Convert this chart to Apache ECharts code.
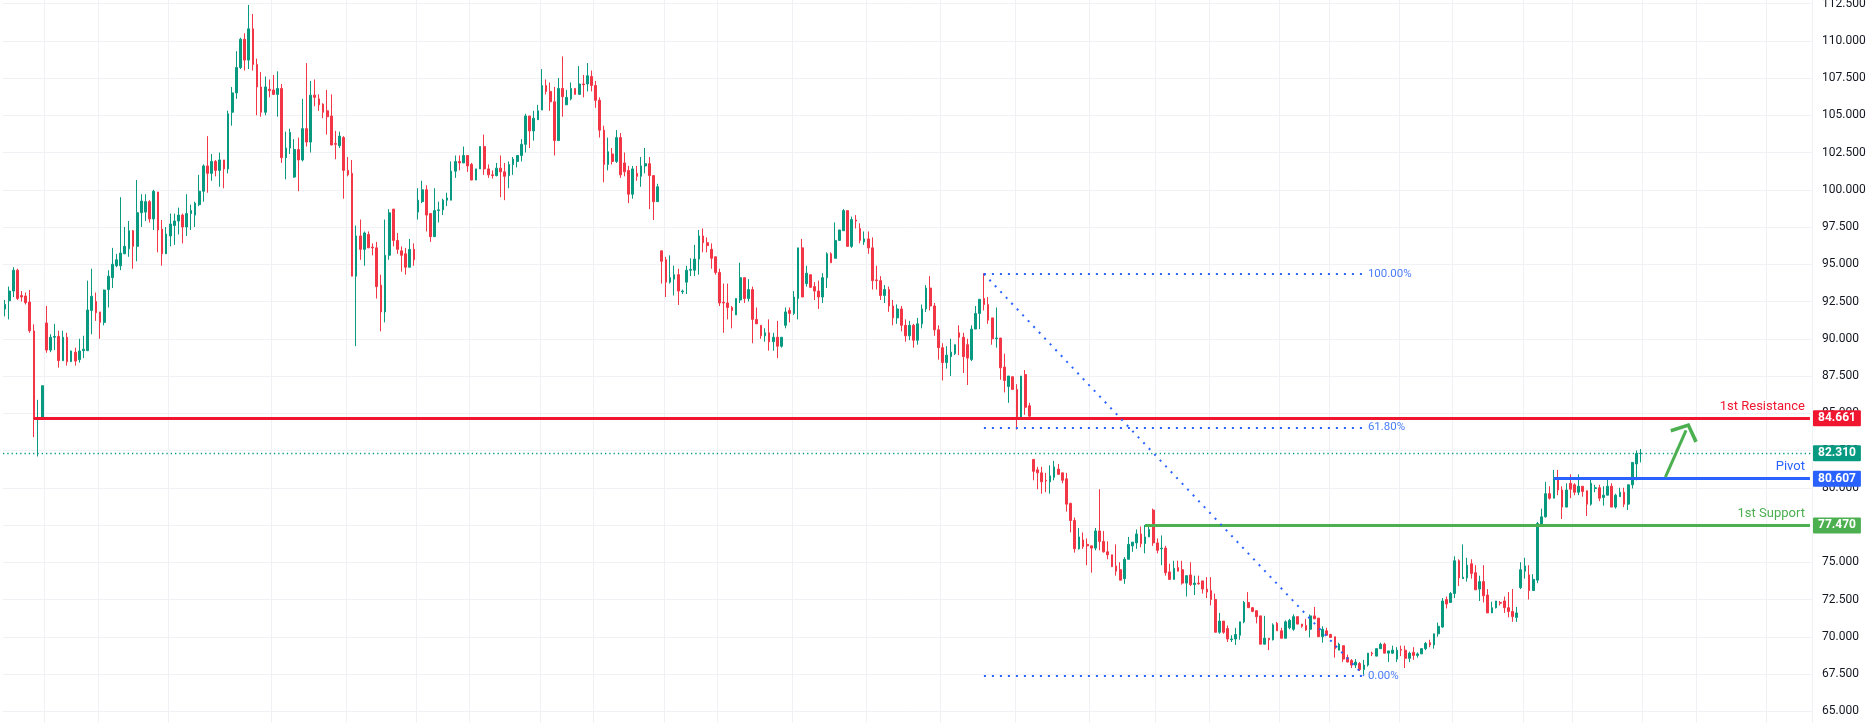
<!DOCTYPE html>
<html>
<head>
<meta charset="utf-8">
<title>WTI</title>
<script src="https://cdn.jsdelivr.net/npm/echarts@6/dist/echarts.min.js"></script>
<style>
  html, body { margin: 0; padding: 0; background: #ffffff; }
  #main { width: 1873px; height: 723px; }
</style>
</head>
<body>
<div id="main"></div>
<script>
// candles, oldest first
let opens = [
  92.0, 92.55, 93.2, 94.6, 92.9, 92.87, 92.46, 90.52, 84.6, 84.7,
  91.06, 89.24, 90.1, 90.16, 88.53, 90.1, 88.46, 89.1, 88.6, 89.2,
  89.2, 91.9, 92.5, 91.8, 91.1, 93.3, 94.1, 94.9, 94.9, 95.7,
  96.04, 97.25, 96.2, 98.46, 98.5, 99.2, 98.04, 99.85, 97.36, 95.7,
  96.9, 97.6, 97.9, 98.3, 97.5, 98.4, 98.3, 99.0, 99.9, 101.6,
  101.1, 101.9, 101.3, 102.0, 101.4, 105.2, 106.5, 108.2, 110.1, 108.7,
  110.8, 108.4, 106.9, 105.2, 106.75, 106.7, 106.4, 106.8, 102.15, 102.8,
  100.85, 102.7, 102.0, 104.1, 103.2, 106.35, 106.1, 105.75, 105.3, 104.95,
  103.1, 102.95, 103.5, 101.3, 101.1, 94.2, 96.9, 96.0, 97.0, 96.15,
  96.1, 93.6, 91.8, 95.6, 98.7, 96.6, 95.9, 95.7, 94.8, 96.0,
  98.5, 99.2, 100.0, 98.4, 96.85, 98.6, 98.65, 99.3, 99.3, 101.25,
  101.9, 101.8, 102.3, 101.7, 100.65, 101.4, 102.9, 101.4, 101.0, 100.95,
  101.45, 101.2, 100.95, 101.7, 101.9, 102.3, 103.05, 104.95, 103.95, 104.7,
  105.35, 107.0, 106.6, 105.9, 103.3, 106.8, 105.7, 106.1, 106.8, 106.4,
  107.1, 107.1, 107.6, 107.0, 106.0, 104.0, 101.7, 102.4, 101.9, 103.5,
  101.8, 101.3, 99.7, 101.1, 100.9, 101.6, 101.75, 100.95, 99.2, 95.9,
  95.3, 93.8, 94.0, 94.3, 93.15, 93.8, 94.6, 94.6, 95.35, 96.9,
  96.45, 96.0, 95.5, 94.45, 92.45, 92.4, 92.1, 91.6, 92.6, 94.1,
  92.7, 93.3, 91.3, 90.9, 90.2, 90.4, 89.8, 90.1, 89.5, 90.9,
  91.9, 91.7, 92.7, 96.1, 93.7, 94.3, 93.5, 93.2, 92.8, 94.1,
  95.7, 95.4, 96.6, 97.25, 98.6, 96.2, 97.97, 97.4, 96.5, 96.7,
  96.1, 93.95, 93.9, 92.9, 93.3, 92.2, 91.4, 92.0, 90.9, 90.2,
  90.9, 89.9, 91.0, 92.0, 93.4, 92.2, 90.6, 89.4, 88.4, 88.8,
  89.0, 90.4, 90.1, 89.6, 88.6, 90.65, 91.7, 92.7, 92.3, 91.4,
  90.0, 90.05, 88.1, 86.8, 87.45, 86.6, 84.7, 87.6, 85.5, 81.9,
  81.2, 81.0, 80.5, 80.4, 80.7, 81.25, 81.0, 80.6, 78.95, 77.8,
  75.9, 76.5, 76.2, 76.1, 75.95, 77.1, 76.4, 75.7, 75.5, 74.75,
  74.5, 73.9, 75.2, 76.1, 76.3, 76.9, 76.25, 76.7, 78.5, 76.3,
  75.9, 75.95, 74.35, 73.85, 74.65, 74.5, 73.6, 74.15, 73.5, 73.6,
  73.75, 73.2, 73.1, 72.5, 70.3, 71.05, 70.55, 69.8, 69.85, 70.1,
  71.0, 72.3, 71.95, 71.75, 71.4, 69.5, 69.9, 69.8, 70.9, 70.4,
  69.9, 70.6, 70.5, 71.35, 70.85, 70.75, 70.5, 71.4, 71.25, 70.0,
  70.4, 70.15, 70.0, 69.1, 69.4, 68.6, 68.4, 68.1, 68.2, 67.8,
  68.1, 68.9, 68.7, 69.2, 69.5, 68.9, 68.9, 68.5, 69.15, 69.1,
  68.55, 68.95, 68.75, 68.85, 69.2, 69.6, 69.45, 70.2, 70.65, 72.5,
  72.3, 72.9, 75.1, 73.9, 73.95, 74.9, 74.3, 73.2, 73.7, 72.8,
  71.6, 71.95, 72.3, 72.4, 71.95, 71.7, 71.3, 73.3, 74.4, 74.15,
  73.1, 73.8, 77.5, 78.05, 79.6, 79.3, 80.6, 79.85, 78.7, 80.3,
  80.2, 79.7, 80.1, 79.8, 78.9, 79.95, 80.0, 79.35, 79.5, 80.1,
  78.7, 79.4, 79.7, 78.9, 80.2, 81.6, 82.3
];
let highs = [
  92.6, 93.5, 94.8, 94.7, 93.2, 93.1, 93.27, 90.97, 85.9, 86.85,
  92.2, 90.3, 91.0, 90.54, 90.54, 90.4, 89.2, 89.4, 90.0, 90.2,
  93.9, 94.7, 93.1, 91.8, 93.3, 94.6, 96.1, 95.7, 99.5, 97.5,
  97.9, 97.3, 100.65, 99.7, 99.7, 99.3, 100.0, 99.85, 97.97, 97.5,
  98.4, 98.4, 98.8, 98.4, 99.7, 99.0, 99.2, 101.0, 101.7, 103.6,
  102.4, 102.0, 102.5, 102.0, 105.3, 106.9, 109.3, 110.2, 110.5, 112.4,
  111.8, 108.8, 107.9, 107.6, 107.4, 107.7, 107.95, 107.1, 103.9, 104.1,
  103.4, 103.5, 106.1, 108.5, 107.3, 107.4, 106.4, 105.8, 106.7, 106.4,
  103.95, 103.9, 103.6, 102.2, 102.0, 97.6, 98.0, 97.2, 97.2, 96.4,
  96.5, 94.3, 98.0, 98.7, 98.7, 97.1, 96.2, 96.1, 96.7, 96.4,
  100.1, 100.6, 100.3, 98.4, 100.1, 99.2, 99.4, 99.8, 101.9, 102.3,
  102.3, 102.9, 102.3, 101.8, 101.4, 102.9, 103.7, 101.7, 101.3, 101.8,
  102.3, 101.8, 101.9, 102.2, 102.3, 103.4, 105.1, 104.95, 105.3, 105.7,
  108.1, 107.4, 107.2, 106.9, 107.5, 108.95, 106.7, 107.2, 106.8, 108.3,
  107.7, 108.5, 108.0, 107.3, 106.2, 104.3, 103.5, 102.8, 104.0, 103.8,
  102.5, 101.6, 101.6, 101.6, 102.2, 102.8, 102.2, 100.95, 100.4, 95.9,
  95.5, 95.6, 94.9, 94.7, 93.3, 94.9, 95.4, 96.3, 97.3, 97.4,
  96.8, 96.4, 95.5, 94.7, 93.7, 93.7, 92.2, 92.7, 95.1, 94.1,
  94.0, 93.5, 92.1, 90.9, 90.7, 91.3, 90.4, 91.2, 90.1, 92.1,
  92.1, 93.2, 96.1, 96.7, 94.9, 94.3, 93.8, 93.9, 94.4, 95.8,
  95.8, 97.8, 97.3, 98.7, 98.6, 98.2, 98.3, 97.75, 97.2, 97.2,
  96.8, 94.9, 94.2, 93.6, 93.5, 92.6, 92.3, 92.2, 91.3, 91.2,
  91.0, 91.4, 92.3, 93.6, 94.2, 92.4, 90.9, 89.7, 89.5, 90.0,
  89.6, 90.9, 90.4, 90.0, 90.9, 92.2, 92.65, 94.4, 92.8, 91.4,
  92.1, 90.05, 89.0, 87.5, 87.45, 86.95, 87.5, 87.9, 85.7, 81.9,
  81.4, 81.4, 81.0, 81.5, 81.8, 81.6, 81.0, 81.0, 79.0, 78.0,
  77.3, 77.0, 76.6, 76.1, 77.3, 79.9, 77.1, 76.4, 75.5, 76.2,
  75.0, 75.35, 76.7, 76.35, 77.2, 77.4, 77.5, 77.4, 78.6, 76.6,
  76.8, 76.1, 74.9, 75.1, 75.1, 75.1, 74.1, 75.0, 74.1, 74.1,
  73.75, 74.0, 74.0, 72.9, 71.6, 71.05, 70.75, 70.1, 70.6, 71.0,
  72.4, 73.0, 72.0, 71.75, 71.4, 71.4, 69.9, 70.9, 71.0, 70.6,
  71.1, 71.2, 71.5, 71.35, 70.85, 71.2, 71.5, 72.0, 71.25, 70.7,
  70.6, 70.2, 70.0, 69.6, 69.4, 68.8, 68.5, 68.5, 68.3, 68.45,
  68.9, 69.0, 69.2, 69.6, 69.6, 69.05, 69.4, 69.3, 69.4, 69.4,
  69.0, 69.3, 68.95, 69.2, 69.65, 69.8, 70.2, 70.95, 72.6, 72.7,
  73.0, 75.4, 75.2, 76.2, 75.3, 75.2, 74.8, 74.1, 74.8, 73.2,
  72.35, 72.4, 72.4, 72.7, 73.0, 73.2, 72.0, 75.0, 75.3, 74.8,
  74.2, 77.7, 78.6, 80.4, 80.1, 81.2, 81.2, 80.1, 80.3, 80.9,
  80.3, 80.9, 80.1, 79.8, 80.7, 80.2, 80.2, 80.1, 80.7, 80.3,
  79.6, 80.0, 80.0, 80.2, 81.7, 82.5, 82.6
];
let lows = [
  91.5, 91.3, 92.8, 92.6, 92.5, 92.3, 90.4, 83.4, 82.1, 84.6,
  89.06, 89.1, 89.24, 88.06, 88.5, 88.2, 88.46, 88.2, 88.4, 88.7,
  89.2, 90.3, 91.2, 90.0, 90.9, 92.1, 93.4, 94.8, 94.6, 95.7,
  95.5, 94.7, 95.2, 97.5, 97.9, 97.8, 97.3, 95.8, 94.9, 95.7,
  96.2, 96.3, 97.0, 96.4, 96.9, 97.3, 97.5, 98.9, 99.2, 99.8,
  100.6, 100.9, 100.2, 100.1, 101.1, 104.3, 106.1, 108.1, 108.0, 108.1,
  108.0, 105.0, 104.9, 105.0, 106.2, 106.4, 104.9, 101.8, 100.7, 102.4,
  100.8, 99.9, 101.9, 102.9, 102.5, 105.6, 105.3, 104.8, 103.7, 103.0,
  102.05, 102.8, 99.4, 100.9, 94.2, 89.5, 95.3, 94.9, 96.1, 95.6,
  92.7, 90.5, 91.1, 95.3, 96.2, 95.7, 94.5, 94.3, 94.8, 94.9,
  98.0, 99.1, 97.2, 96.5, 96.85, 97.8, 98.3, 98.9, 99.3, 100.8,
  101.3, 101.8, 101.2, 100.65, 100.65, 101.4, 101.0, 100.8, 100.75, 100.9,
  99.5, 99.3, 100.1, 101.0, 101.5, 101.9, 102.5, 102.8, 103.3, 104.7,
  105.35, 106.4, 105.3, 102.3, 103.3, 104.9, 105.7, 106.0, 106.4, 106.4,
  106.2, 106.6, 106.6, 105.5, 103.5, 100.5, 101.3, 101.7, 101.8, 100.8,
  100.9, 99.1, 99.4, 100.6, 100.2, 101.1, 98.7, 97.97, 99.2, 93.7,
  92.8, 93.7, 92.9, 92.27, 93.0, 93.0, 94.2, 94.2, 94.3, 95.8,
  95.8, 94.7, 94.3, 92.2, 90.4, 91.3, 90.7, 91.6, 92.4, 92.4,
  92.5, 89.7, 91.0, 90.0, 89.8, 89.2, 89.2, 88.7, 89.4, 90.7,
  91.1, 91.6, 91.3, 92.8, 93.5, 93.4, 92.6, 92.0, 92.4, 93.4,
  95.1, 95.4, 96.6, 97.25, 96.2, 96.1, 97.4, 96.4, 96.3, 95.7,
  93.3, 93.3, 92.6, 92.4, 91.8, 90.9, 91.0, 90.5, 89.8, 89.9,
  89.4, 89.6, 90.7, 91.8, 91.9, 90.2, 88.6, 87.2, 88.0, 87.5,
  88.9, 88.9, 87.7, 86.9, 88.5, 90.65, 90.65, 91.9, 91.0, 89.6,
  89.4, 87.25, 86.4, 85.7, 86.6, 83.9, 84.7, 84.9, 84.7, 80.5,
  79.9, 79.6, 79.7, 79.6, 80.5, 80.9, 80.3, 78.4, 77.0, 75.65,
  75.85, 75.9, 74.8, 74.3, 75.8, 75.8, 75.65, 75.2, 74.7, 74.1,
  73.8, 73.55, 75.2, 75.7, 75.9, 76.0, 75.6, 76.7, 76.1, 75.6,
  74.8, 74.1, 73.85, 73.85, 74.4, 73.5, 72.7, 73.4, 72.8, 73.5,
  72.9, 72.6, 72.1, 70.3, 70.2, 70.2, 69.65, 69.65, 69.45, 69.8,
  70.9, 71.95, 71.65, 70.9, 69.5, 69.5, 69.1, 69.75, 70.4, 69.9,
  69.9, 70.5, 70.4, 70.85, 70.6, 70.4, 69.95, 71.2, 70.0, 69.6,
  70.1, 69.95, 68.6, 69.1, 68.3, 68.3, 67.9, 67.9, 67.7, 67.45,
  68.0, 68.7, 68.7, 69.2, 68.9, 68.3, 68.85, 68.3, 68.7, 67.9,
  68.3, 68.45, 68.6, 68.85, 69.1, 69.3, 69.2, 70.0, 70.6, 71.9,
  72.3, 72.6, 73.4, 73.9, 73.7, 73.9, 73.15, 72.4, 72.3, 71.6,
  71.6, 71.9, 72.1, 71.6, 71.3, 71.0, 71.0, 73.2, 73.9, 72.5,
  73.1, 73.6, 77.5, 78.0, 79.2, 79.3, 79.5, 77.9, 78.7, 79.3,
  79.5, 79.5, 79.4, 78.1, 78.8, 79.7, 79.1, 78.8, 79.5, 78.7,
  78.6, 79.4, 78.7, 78.5, 79.95, 80.5, 81.7
];
let closes = [
  92.3, 93.2, 94.6, 92.7, 92.8, 92.42, 90.54, 84.6, 84.7, 86.85,
  89.24, 90.1, 90.15, 88.53, 90.1, 88.46, 89.18, 88.5, 89.18, 89.3,
  91.93, 92.85, 91.75, 91.1, 93.27, 94.2, 95.0, 95.3, 95.75, 96.2,
  97.25, 96.2, 98.46, 99.24, 99.2, 98.04, 99.9, 97.3, 95.7, 97.03,
  97.7, 97.9, 98.3, 97.5, 98.4, 98.6, 99.1, 99.9, 101.6, 101.1,
  101.9, 101.3, 102.0, 101.4, 105.1, 106.5, 108.2, 110.1, 108.7, 110.8,
  108.4, 106.9, 105.2, 106.9, 106.65, 106.4, 106.8, 102.15, 102.8, 103.85,
  102.7, 102.0, 104.1, 103.2, 106.35, 106.2, 105.7, 105.2, 104.9, 103.0,
  103.05, 103.6, 101.3, 101.0, 94.2, 96.9, 96.0, 97.1, 96.1, 96.1,
  93.5, 91.8, 95.6, 98.45, 96.6, 96.0, 95.6, 94.8, 96.0, 95.3,
  99.3, 100.0, 98.3, 96.85, 98.6, 98.65, 99.3, 99.45, 101.25, 101.9,
  101.8, 102.3, 101.6, 100.65, 101.4, 102.9, 101.4, 101.0, 100.95, 101.45,
  101.2, 100.9, 101.7, 102.05, 102.3, 103.05, 104.95, 103.95, 104.8, 105.3,
  107.0, 106.6, 105.9, 103.3, 106.8, 106.25, 106.2, 106.8, 106.4, 107.1,
  107.05, 107.65, 107.0, 106.0, 104.0, 101.7, 102.55, 101.9, 103.5, 101.0,
  101.2, 99.7, 101.4, 100.9, 101.6, 101.75, 100.95, 99.2, 100.2, 95.2,
  93.8, 94.1, 94.3, 93.2, 93.2, 94.6, 94.65, 95.35, 96.9, 96.45,
  96.25, 95.4, 94.45, 92.4, 92.4, 92.1, 91.9, 92.7, 94.1, 92.7,
  93.3, 91.3, 91.0, 90.2, 90.4, 89.8, 90.1, 89.5, 90.1, 91.8,
  91.7, 92.8, 96.1, 92.8, 94.4, 93.45, 93.2, 92.8, 94.1, 95.7,
  95.1, 96.6, 97.3, 98.6, 96.2, 98.0, 97.9, 96.6, 96.7, 96.1,
  93.9, 93.9, 92.9, 93.3, 92.2, 91.4, 92.0, 90.9, 90.2, 90.9,
  89.9, 91.0, 92.0, 93.4, 92.2, 90.6, 89.4, 88.4, 88.9, 89.1,
  89.6, 90.1, 88.8, 88.7, 90.65, 91.7, 92.65, 92.3, 91.25, 90.0,
  90.05, 88.05, 87.2, 87.5, 86.6, 84.7, 87.5, 85.4, 84.8, 81.1,
  81.0, 80.4, 80.45, 80.8, 81.4, 80.9, 80.5, 78.9, 77.8, 75.9,
  76.7, 76.05, 76.1, 75.95, 77.1, 76.4, 75.7, 75.5, 74.7, 74.4,
  73.8, 75.2, 76.2, 76.35, 76.9, 76.25, 76.7, 77.2, 76.3, 75.8,
  75.95, 74.3, 73.85, 74.6, 74.4, 73.6, 74.1, 73.5, 73.6, 73.55,
  73.2, 73.0, 72.5, 70.3, 71.05, 70.3, 69.85, 69.85, 70.15, 71.0,
  72.3, 71.95, 71.7, 71.35, 69.5, 69.9, 69.8, 70.8, 70.4, 69.9,
  71.0, 71.1, 71.35, 70.85, 70.7, 70.45, 71.4, 71.2, 70.0, 70.5,
  70.1, 69.95, 69.2, 69.5, 68.5, 68.3, 68.1, 68.3, 67.8, 68.1,
  68.9, 68.85, 69.2, 69.5, 68.9, 69.05, 69.1, 69.1, 69.1, 68.55,
  68.9, 68.75, 68.85, 69.2, 69.55, 69.45, 70.2, 70.7, 72.4, 72.2,
  72.9, 75.1, 73.95, 74.0, 74.8, 74.25, 73.15, 73.7, 72.75, 71.6,
  71.95, 72.4, 72.25, 71.95, 71.7, 71.35, 71.6, 74.5, 74.75, 73.1,
  73.85, 77.6, 78.05, 79.6, 79.3, 80.6, 79.85, 78.7, 79.85, 79.9,
  79.7, 80.1, 79.75, 78.9, 80.3, 80.0, 79.3, 79.5, 80.1, 78.7,
  79.5, 79.7, 78.9, 80.2, 81.7, 82.3, 82.31
];

// bar slots incl. the empty room right of the last candle
let slotCount = 438;
// vertical time grid, slot index
let timeGrid = [10, 23, 40, 65, 83, 100, 113, 130, 143, 160, 173, 191, 209, 227, 245, 263, 279, 292, 309, 321, 338, 351, 368, 380, 397, 410, 427];
// price scale
let priceMin = 62.5;
let priceMax = 115;
let priceStep = 2.5;

// drawn levels
let levelNames = ['1st Resistance', 'Pivot', '1st Support'];
let levelValues = [84.661, 80.607, 77.470];
let levelFrom = [7, 375, 276];
let lastPrice = 82.310;

// fibonacci retracement, [slot, price]
let fibHigh = [237, 94.35];
let fibLow = [329, 67.39];
let fibRatios = [1, 0.618, 0];
let fibNames = ['100.00%', '61.80%', '0.00%'];

// projection arrow, [slot, price]
let arrowFrom = [402, 80.72];
let arrowTo = [407, 83.85];

class PriceChart {
  constructor() {
    this.up = '#089981';
    this.down = '#f23645';
    this.levelColors = ['#f0162f', '#2962ff', '#4caf50'];
    this.fibColor = '#2962ff';
    this.font = 'Roboto, "Noto Sans", sans-serif';
  }

  init() {
    this.createCandle('main');
  }

  // price tag on the right scale
  tag(v, color) {
    return {
      show: true,
      position: 'end',
      distance: 1,
      formatter: v.toFixed(3),
      color: '#ffffff',
      backgroundColor: color,
      padding: [2, 5, 1, 5],
      fontSize: 12,
      fontWeight: 'bold',
      fontFamily: this.font,
      lineHeight: 13,
      borderRadius: 1
    };
  }

  buildLines() {
    let lines = [];
    let last = slotCount - 1;

    // last price, dotted across the whole pane
    lines.push({
      yAxis: lastPrice,
      lineStyle: { color: this.up, width: 1.3, type: [1.3, 3] },
      label: this.tag(lastPrice, this.up)
    });

    levelNames.forEach((name, k) => {
      let c = this.levelColors[k];
      lines.push([
        {
          coord: [levelFrom[k], levelValues[k]],
          lineStyle: { color: c, width: 3, type: 'solid' },
          label: {
            show: true, position: 'insideEndTop', distance: 5,
            formatter: name, color: c, fontSize: 13, fontFamily: this.font
          }
        },
        { coord: [last, levelValues[k]] }
      ]);
      // invisible full-width twin that carries the scale tag
      lines.push({
        yAxis: levelValues[k],
        lineStyle: { color: 'rgba(0,0,0,0)', width: 1 },
        label: this.tag(levelValues[k], c)
      });
    });

    // fib levels
    fibRatios.forEach((r, k) => {
      let p = fibLow[1] + r * (fibHigh[1] - fibLow[1]);
      lines.push([
        {
          coord: [fibHigh[0], p],
          lineStyle: { color: this.fibColor, width: 2, type: [2, 6] },
          label: {
            show: true, position: 'end', distance: 4,
            formatter: fibNames[k], color: '#4a7df7', fontSize: 11.5, fontFamily: this.font
          }
        },
        { coord: [fibLow[0], p] }
      ]);
    });
    lines.push([
      { coord: fibHigh, lineStyle: { color: this.fibColor, width: 2, type: [2, 6] }, label: { show: false } },
      { coord: fibLow }
    ]);

    // arrow
    lines.push([
      { coord: arrowFrom, symbol: 'none', lineStyle: { color: '#4caf50', width: 3, type: 'solid' }, label: { show: false } },
      {
        coord: arrowTo,
        symbol: 'path://M16,0 L32,13 L29.5,16 L16,4.5 L2.5,16 L0,13 Z',
        symbolSize: [30, 16]
      }
    ]);
    return lines;
  }

  createCandle(el) {
    let chart = echarts.init(document.getElementById(el));
    let slots = [];
    for (let i = 0; i < slotCount; i++) slots.push(String(i));
    let data = opens.map((o, i) => [o, closes[i], lows[i], highs[i]]);

    let option = {
      animation: false,
      backgroundColor: '#ffffff',
      grid: {
        left: 3,
        right: 61,
        top: -33.75,
        bottom: -25.5,
        containLabel: false,
        outerBoundsMode: 'none'
      },
      xAxis: {
        type: 'category',
        data: slots,
        boundaryGap: true,
        axisLine: { show: false },
        axisTick: { show: false },
        axisLabel: { show: false },
        splitLine: {
          show: true,
          interval: (idx) => timeGrid.indexOf(idx) >= 0,
          lineStyle: { color: '#f0f1f4', width: 1 }
        }
      },
      yAxis: {
        type: 'value',
        position: 'right',
        min: priceMin,
        max: priceMax,
        interval: priceStep,
        axisLine: { show: false },
        axisTick: { show: false },
        axisLabel: {
          margin: 10,
          color: '#131722',
          fontSize: 12,
          fontFamily: this.font,
          formatter: (v) => v.toFixed(3)
        },
        splitLine: { lineStyle: { color: '#f0f1f4', width: 1 } }
      },
      series: [
        {
          name: 'price',
          type: 'candlestick',
          data: data,
          barWidth: 2.2,
          itemStyle: {
            color: this.up,
            color0: this.down,
            borderColor: this.up,
            borderColor0: this.down,
            borderWidth: 1
          },
          markLine: {
            silent: true,
            animation: false,
            symbol: ['none', 'none'],
            data: this.buildLines()
          }
        }
      ]
    };
    chart.setOption(option);
  }
}

new PriceChart().init();
</script>
</body>
</html>
